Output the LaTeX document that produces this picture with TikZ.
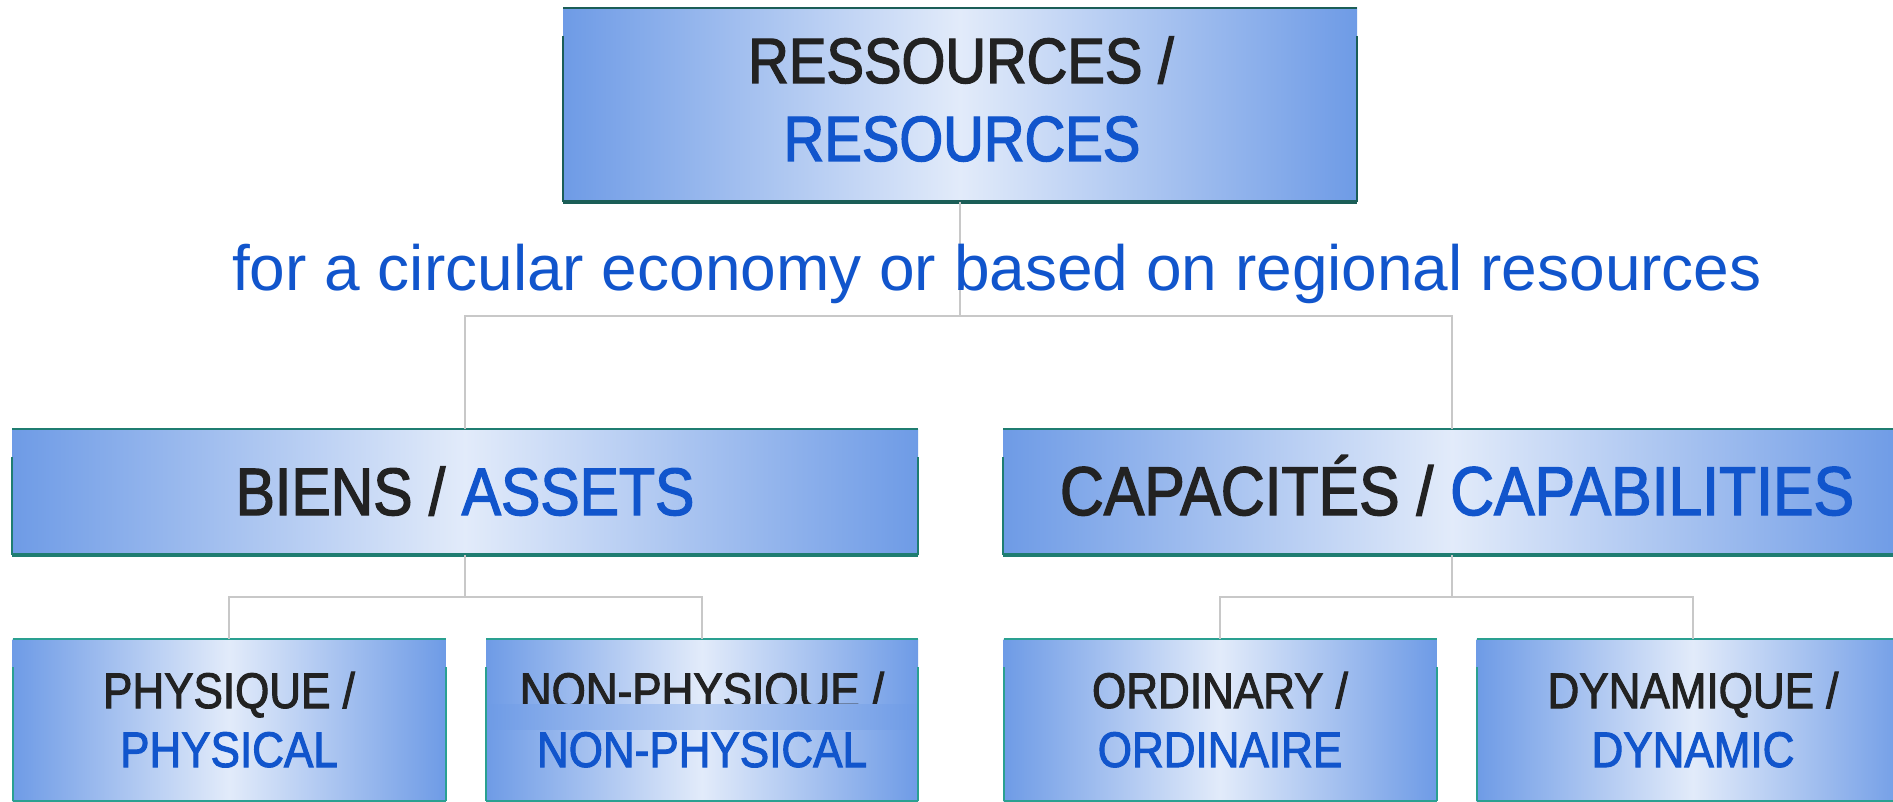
\documentclass[tikz,border=0pt]{standalone}
\usepackage{fontspec}
\setmainfont{Liberation Sans}
\newfontfamily\boxfont[FakeStretch=0.88,FakeBold=2]{Liberation Sans}
\definecolor{boxedge}{RGB}{110,155,230}
\definecolor{boxmid}{RGB}{226,235,250}
\definecolor{bandmid}{RGB}{185,207,243}
\definecolor{txtblack}{RGB}{34,34,34}
\definecolor{txtblue}{RGB}{17,85,204}
\definecolor{bordA}{RGB}{27,94,87}
\definecolor{bordB}{RGB}{31,125,113}
\definecolor{bordC}{RGB}{42,160,145}
\definecolor{connc}{RGB}{200,200,200}
\newcommand\drawboxborder[4]{%
  \draw[#2, line width=#3] (#1.north west) -- (#1.north east);
  \draw[#2, line width=#3] ([yshift=-28pt]#1.north west) -- (#1.south west);
  \draw[#2, line width=#3] ([yshift=-28pt]#1.north east) -- (#1.south east);
  \draw[#2, line width=#4] (#1.south west) -- (#1.south east);
}
\begin{document}
\begin{tikzpicture}[x=1pt,y=-1pt,
  boxshade/.style={rectangle, inner sep=0pt, outer sep=0pt,
    left color=boxedge, right color=boxedge, middle color=boxmid},
  conn/.style={draw=connc, line width=2pt},
  bigfr/.style={font=\boxfont\fontsize{64}{64}\selectfont, text=txtblack, anchor=base, inner sep=0pt},
  bigen/.style={font=\boxfont\fontsize{64}{64}\selectfont, text=txtblue, anchor=base, inner sep=0pt},
  midfr/.style={font=\boxfont\fontsize{67}{67}\selectfont, text=txtblack, anchor=base, inner sep=0pt},
  smfr/.style={font=\boxfont\fontsize{50}{50}\selectfont, text=txtblack, anchor=base, inner sep=0pt},
  smen/.style={font=\boxfont\fontsize{50}{50}\selectfont, text=txtblue, anchor=base, inner sep=0pt}]
\useasboundingbox (0,0) rectangle (1893,802);
\clip (0,0) rectangle (1893,802);
\fill[white] (0,0) rectangle (1893,802);

% boxes
\node[boxshade, minimum width=794pt, minimum height=194pt] (res) at (960,105) {};
\node[boxshade, minimum width=906pt, minimum height=126pt] (biens) at (465,492) {};
\node[boxshade, minimum width=898pt, minimum height=126pt] (capa) at (1452,492) {};
\node[boxshade, minimum width=433pt, minimum height=162pt] (phys) at (229,720) {};
\node[boxshade, minimum width=432pt, minimum height=162pt] (nonphys) at (702,720) {};
\node[boxshade, minimum width=433pt, minimum height=162pt] (ordi) at (1220,720) {};
\node[boxshade, minimum width=433pt, minimum height=162pt] (dyna) at (1693,720) {};

\drawboxborder{res}{bordA}{2.5pt}{4pt}
\drawboxborder{biens}{bordB}{2.5pt}{4pt}
\drawboxborder{capa}{bordB}{2.5pt}{4pt}
\drawboxborder{phys}{bordC}{2pt}{2pt}
\drawboxborder{nonphys}{bordC}{2.5pt}{2pt}
\drawboxborder{ordi}{bordC}{2pt}{2pt}
\drawboxborder{dyna}{bordC}{2pt}{2pt}

% connectors
\coordinate (j1) at (960,316);
\coordinate (j2) at (465,597);
\coordinate (j3) at (1452,597);
\draw[conn] (res.south) -- (j1);
\draw[conn] (biens.north) |- (j1) -| (capa.north);
\draw[conn] (biens.south) -- (j2);
\draw[conn] (phys.north) |- (j2) -| (nonphys.north);
\draw[conn] (capa.south) -- (j3);
\draw[conn] (ordi.north) |- (j3) -| (dyna.north);

% subtitle
\node[anchor=base, inner sep=0pt, font=\fontsize{64}{64}\selectfont, text=txtblue] (sub) at (997,291) {for a circular economy or based on regional resources};

% texts
\node[bigfr] (resfr) at (961,83) {RESSOURCES /};
\node[bigen] (resen) at (962,161) {RESOURCES};
\node[midfr] (biensl) at (465,515) {BIENS / \textcolor{txtblue}{ASSETS}};
\node[midfr, font=\boxfont\fontsize{69}{69}\selectfont] (capal) at (1457,515) {CAPACITÉS / \textcolor{txtblue}{CAPABILITIES}};
\node[smfr] (physfr) at (229,708) {PHYSIQUE /};
\node[smen] (physen) at (229,767) {PHYSICAL};
\node[smfr] (npfr) at (702,708) {NON-PHYSIQUE /};
\node[smen] (npen) at (702,767) {NON-PHYSICAL};
\node[smfr] (ordfr) at (1220,708) {ORDINARY /};
\node[smen] (orden) at (1220,767) {ORDINAIRE};
\node[smfr] (dynfr) at (1693,708) {DYNAMIQUE /};
\node[smen] (dynen) at (1693,767) {DYNAMIC};

% rendering band across NON-PHYSIQUE box
\shade[left color=boxedge, right color=boxedge, middle color=bandmid] ([xshift=1.2pt]nonphys.west |- 0,704) rectangle ([xshift=-1.2pt]nonphys.east |- 0,729);
\end{tikzpicture}
\end{document}
